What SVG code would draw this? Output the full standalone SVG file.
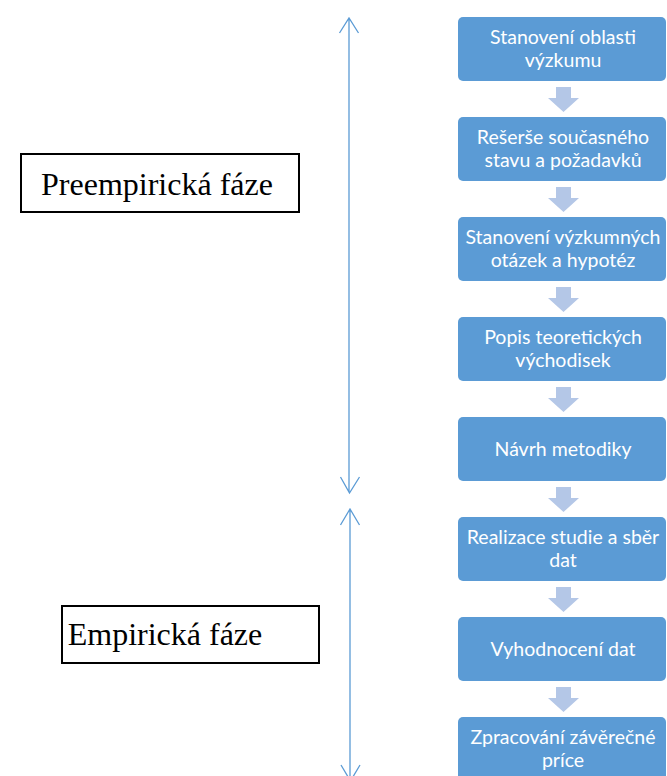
<svg xmlns="http://www.w3.org/2000/svg" width="667" height="776" viewBox="0 0 667 776">
<style>
.box{fill:#5B9BD5}
.t{fill:#fff;font-family:Lato,"Open Sans",sans-serif;font-size:19.5px;text-anchor:middle}
.arr{fill:#B4C7E7}
.ph{fill:#fff;stroke:#000;stroke-width:2}
.pt{font-family:"Liberation Serif","Times New Roman",serif;font-size:32px;fill:#000;text-anchor:middle}
.vl{stroke:#5B9BD5;stroke-width:1.3;fill:none}
</style>
<defs>
<polygon id="da" class="arr" points="556,0 571,0 571,11 579,11 563.5,25 548,11 556,11"/>
</defs>
<rect width="667" height="776" fill="#fff"/>
<g id="connectors">
<path class="vl" d="M349,18 V492 M339.5,33 L349,18 L358.5,33 M340.5,477 L349.5,493 L359.5,477"/>
<path class="vl" d="M350,510 V790 M340.5,525 L350,509 L359.5,525 M341,765 L350.5,781 L360,765"/>
<use href="#da" y="87"/>
<use href="#da" y="187"/>
<use href="#da" y="287"/>
<use href="#da" y="387"/>
<use href="#da" y="487"/>
<use href="#da" y="587"/>
<use href="#da" y="687"/>
</g>
<g id="phase1"><rect class="ph" x="21" y="154" width="278" height="58"/><text class="pt" x="157" y="195">Preempirická fáze</text></g>
<g id="phase2"><rect class="ph" x="62" y="606" width="257" height="57"/><text class="pt" x="165" y="645">Empirická fáze</text></g>
<g id="n1"><rect class="box" x="458" y="17" width="208" height="64" rx="5"/><text class="t" x="563" y="43.5">Stanovení oblasti</text><text class="t" x="563" y="66.5">výzkumu</text></g>
<g id="n2"><rect class="box" x="458" y="117" width="208" height="64" rx="5"/><text class="t" x="563" y="143.5">Rešerše současného</text><text class="t" x="563" y="166.5">stavu a požadavků</text></g>
<g id="n3"><rect class="box" x="458" y="217" width="208" height="64" rx="5"/><text class="t" x="563" y="243.5">Stanovení výzkumných</text><text class="t" x="563" y="266.5">otázek a hypotéz</text></g>
<g id="n4"><rect class="box" x="458" y="317" width="208" height="64" rx="5"/><text class="t" x="563" y="343.5">Popis teoretických</text><text class="t" x="563" y="366.5">východisek</text></g>
<g id="n5"><rect class="box" x="458" y="417" width="208" height="64" rx="5"/><text class="t" x="563" y="455.5">Návrh metodiky</text></g>
<g id="n6"><rect class="box" x="458" y="517" width="208" height="64" rx="5"/><text class="t" x="563" y="543.5">Realizace studie a sběr</text><text class="t" x="563" y="566.5">dat</text></g>
<g id="n7"><rect class="box" x="458" y="617" width="208" height="64" rx="5"/><text class="t" x="563" y="655.5">Vyhodnocení dat</text></g>
<g id="n8"><rect class="box" x="458" y="717" width="208" height="64" rx="5"/><text class="t" x="563" y="743.5">Zpracování závěrečné</text><text class="t" x="563" y="766.5">príce</text></g>
</svg>
